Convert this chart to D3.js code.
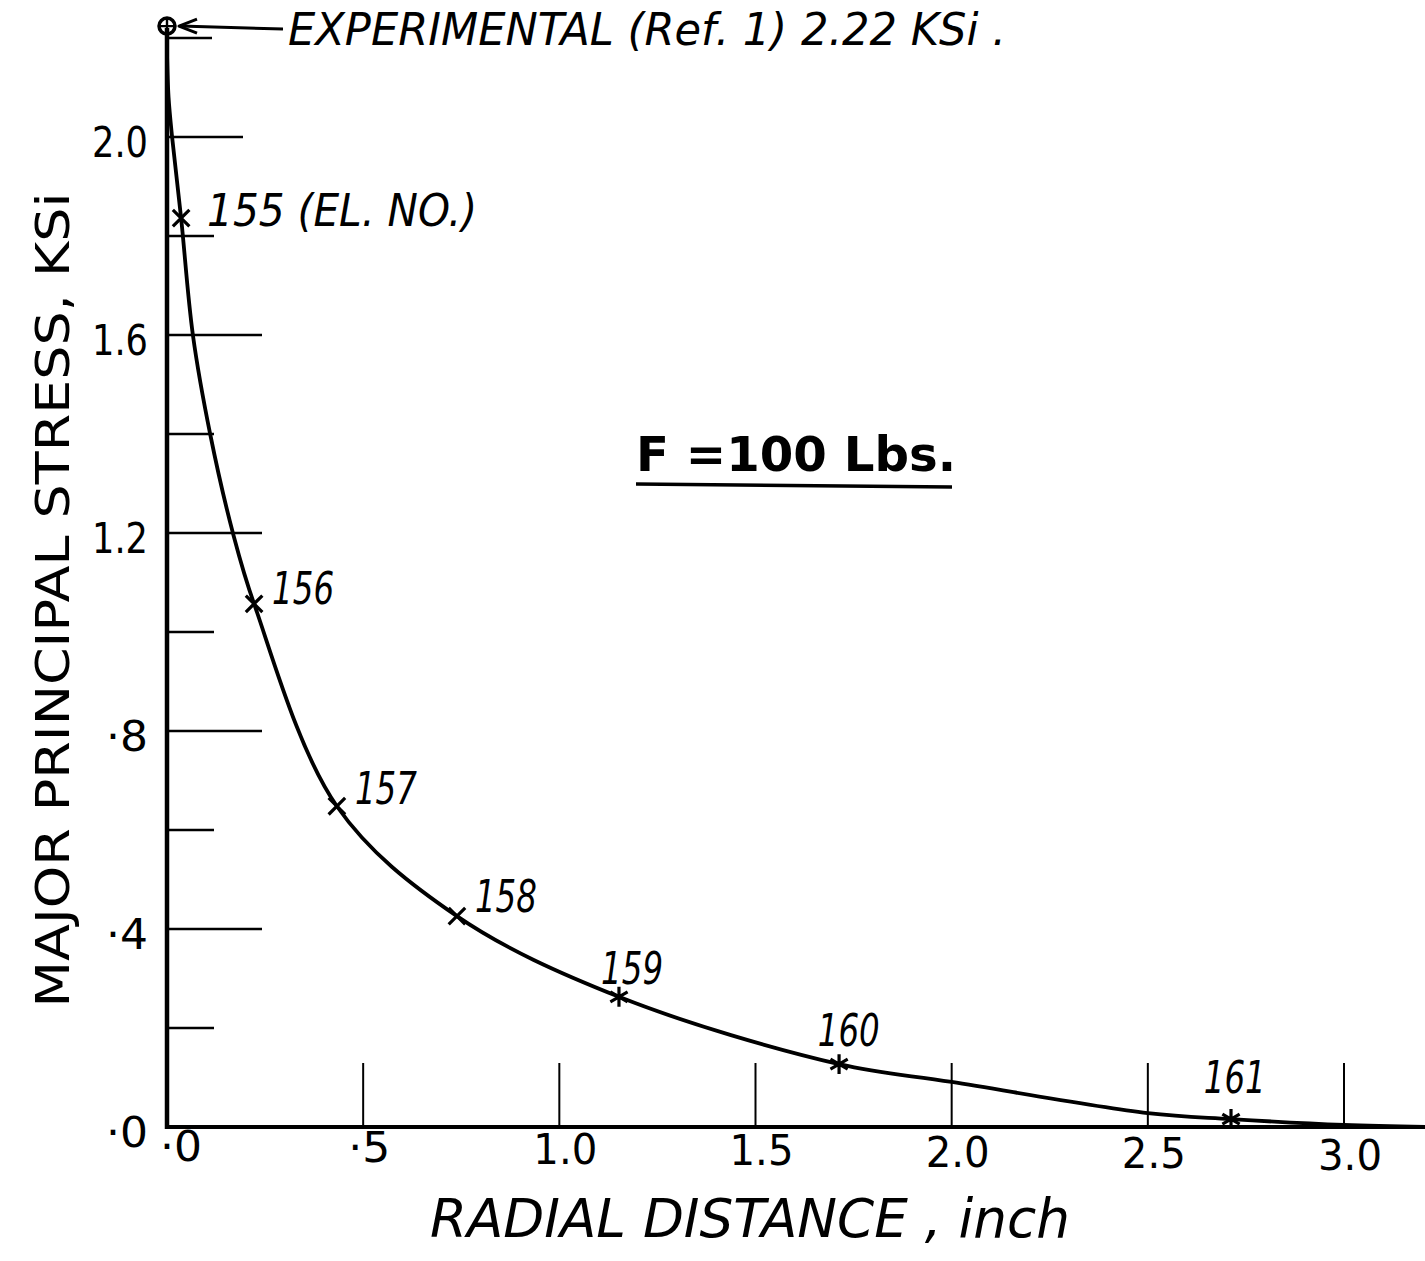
<!DOCTYPE html>
<html>
<head>
<meta charset="utf-8">
<script src="https://cdn.jsdelivr.net/npm/d3@7"></script>
<style>
  html, body { margin: 0; padding: 0; background: #fff; }
  svg { display: block; }
  text { fill: #000; font-family: "DejaVu Sans", sans-serif; }
</style>
</head>
<body>
<svg id="chart" width="1425" height="1261"></svg>
<script>
// ---------- data ----------
const elementNumbers = [155, 156, 157, 158, 159, 160, 161];
const elementRadius  = [0.036, 0.222, 0.433, 0.739, 1.152, 1.713, 2.712];
const elementStress  = [1.836, 1.057, 0.648, 0.426, 0.263, 0.127, 0.016];

const curveRadius = [0, 0.004, 0.013, 0.036, 0.066, 0.110, 0.168, 0.222, 0.433, 0.739, 1.152, 1.713, 2.0, 2.5, 2.712, 3.0, 3.207];
const curveStress = [2.17, 2.08, 2.0, 1.836, 1.6, 1.4, 1.2, 1.057, 0.648, 0.426, 0.263, 0.127, 0.091, 0.028, 0.016, 0.004, 0.0];

const experimentalRadius = 0;
const experimentalStress = 2.22;

const yTickValues = [0.2, 0.4, 0.6, 0.8, 1.0, 1.2, 1.4, 1.6, 1.8, 2.0, 2.2];
const yTickLabelValues = [0, 0.4, 0.8, 1.2, 1.6, 2.0];
const yTickLabels = ["·0", "·4", "·8", "1.2", "1.6", "2.0"];
const xTickValues = [0.5, 1.0, 1.5, 2.0, 2.5, 3.0];
const xTickLabelValues = [0, 0.5, 1.0, 1.5, 2.0, 2.5, 3.0];
const xTickLabels = ["·0", "·5", "1.0", "1.5", "2.0", "2.5", "3.0"];

const xTitle = "RADIAL  DISTANCE , inch";
const yTitle = "MAJOR  PRINCIPAL  STRESS,  KSi";
const experimentalNote = "EXPERIMENTAL (Ref. 1) 2.22 KSi .";
const loadNote = "F =100  Lbs.";
const firstElementSuffix = " (EL. NO.)";

// ---------- layout ----------
const svg = d3.select("#chart");
const W = 1425, H = 1261;
const x = d3.scaleLinear().domain([0, 3]).range([167, 1344]);
const y = d3.scaleLinear().domain([0, 2]).range([1127, 137]);

const ink = "#000";

// axes lines
svg.append("line")
  .attr("x1", x(0)).attr("x2", W)
  .attr("y1", y(0)).attr("y2", y(0))
  .attr("stroke", ink).attr("stroke-width", 4);
svg.append("line")
  .attr("x1", x(0)).attr("x2", x(0))
  .attr("y1", y(0) + 2).attr("y2", y(experimentalStress))
  .attr("stroke", ink).attr("stroke-width", 4.5);

// y ticks (horizontal dashes to the right of the axis)
const labeledSet = new Set(yTickLabelValues.map(v => v.toFixed(1)));
svg.append("g").selectAll("line")
  .data(yTickValues)
  .join("line")
  .attr("x1", x(0))
  .attr("x2", d => x(0) + (d >= 2.1 ? 45 : d >= 1.95 ? 76 : labeledSet.has(d.toFixed(1)) ? 95 : 47))
  .attr("y1", d => y(d)).attr("y2", d => y(d))
  .attr("stroke", ink).attr("stroke-width", 2.6);

// x ticks (vertical dashes above the axis)
svg.append("g").selectAll("line")
  .data(xTickValues)
  .join("line")
  .attr("x1", d => x(d)).attr("x2", d => x(d))
  .attr("y1", y(0)).attr("y2", y(0) - 64)
  .attr("stroke", ink).attr("stroke-width", 2);

// y tick labels
svg.append("g").selectAll("text")
  .data(yTickLabelValues)
  .join("text")
  .attr("x", x(0) - 19)
  .attr("y", d => y(d) + 8)
  .attr("text-anchor", "end")
  .attr("dominant-baseline", "middle")
  .attr("font-size", 42)
  .attr("textLength", (d, i) => yTickLabels[i].length > 2 ? 56 : 42)
  .attr("lengthAdjust", "spacingAndGlyphs")
  .text((d, i) => yTickLabels[i]);

// x tick labels
svg.append("g").selectAll("text")
  .data(xTickLabelValues)
  .join("text")
  .attr("x", d => x(d) + (d === 0 ? 14 : 6))
  .attr("y", d => y(0) + 22 + d * 3)
  .attr("text-anchor", "middle")
  .attr("dominant-baseline", "middle")
  .attr("font-size", 42)
  .attr("textLength", (d, i) => xTickLabels[i].length > 2 ? 64 : 42)
  .attr("lengthAdjust", "spacingAndGlyphs")
  .text((d, i) => xTickLabels[i]);

// axis titles
svg.append("text")
  .attr("x", 750).attr("y", 1222)
  .attr("text-anchor", "middle")
  .attr("dominant-baseline", "middle")
  .attr("font-size", 54)
  .attr("font-style", "italic")
  .attr("textLength", 640).attr("lengthAdjust", "spacingAndGlyphs")
  .text(xTitle);

svg.append("text")
  .attr("transform", "translate(56,600) rotate(-90)")
  .attr("text-anchor", "middle")
  .attr("dominant-baseline", "middle")
  .attr("font-size", 46)
  .attr("textLength", 815).attr("lengthAdjust", "spacingAndGlyphs")
  .text(yTitle);

// curve
const curvePts = curveRadius.map((r, i) => [r, curveStress[i]]);
const line = d3.line()
  .x(d => x(d[0])).y(d => y(d[1]))
  .curve(d3.curveCatmullRom.alpha(0.5));
svg.append("path")
  .attr("d", line(curvePts))
  .attr("fill", "none")
  .attr("stroke", ink)
  .attr("stroke-width", 3.8)
  .attr("stroke-linecap", "round");

// element markers
const pts = elementNumbers.map((n, i) => ({ n, r: elementRadius[i], s: elementStress[i], i }));
svg.append("g").selectAll("path")
  .data(pts)
  .join("path")
  .attr("transform", d => `translate(${x(d.r)},${y(d.s)})`)
  .attr("d", d => d3.symbol().type(d.r > 1 ? d3.symbolAsterisk : d3.symbolTimes).size(d.r > 1 ? 280 : 180)())
  .attr("fill", "none")
  .attr("stroke", ink)
  .attr("stroke-width", 3.2);

// element labels
svg.append("g").selectAll("text")
  .data(pts)
  .join("text")
  .attr("x", d => d.r > 1 ? x(d.r) + 20 - d.r * 6 : x(d.r) + (d.i === 0 ? 26 : 18))
  .attr("y", d => d.r > 1 ? y(d.s) - 16 - d.r * 8 : y(d.s) - (d.i === 0 ? 4 : 10 + d.i * 2))
  .attr("text-anchor", d => d.r > 1 ? "middle" : "start")
  .attr("dominant-baseline", "middle")
  .attr("font-size", 44)
  .attr("font-style", "italic")
  .attr("textLength", d => d.i === 0 ? 270 : 62)
  .attr("lengthAdjust", "spacingAndGlyphs")
  .text(d => d.i === 0 ? d.n + firstElementSuffix : String(d.n));

// experimental point
const ex = x(experimentalRadius), ey = y(experimentalStress);
svg.append("circle")
  .attr("cx", ex).attr("cy", ey - 2).attr("r", 8)
  .attr("fill", "none").attr("stroke", ink).attr("stroke-width", 3.5);
svg.append("path")
  .attr("d", `M${ex - 7},${ey - 2}H${ex + 7}M${ex},${ey - 9}V${ey + 5}`)
  .attr("stroke", ink).attr("stroke-width", 2.4);

// arrow
svg.append("line")
  .attr("x1", ex + 116).attr("y1", ey + 1)
  .attr("x2", ex + 13).attr("y2", ey - 2)
  .attr("stroke", ink).attr("stroke-width", 3);
svg.append("path")
  .attr("d", `M${ex + 30},${ey - 9} L${ex + 12},${ey - 2} L${ex + 30},${ey + 5}`)
  .attr("fill", "none").attr("stroke", ink).attr("stroke-width", 3)
  .attr("stroke-linejoin", "round");

svg.append("text")
  .attr("x", 288).attr("y", 33)
  .attr("dominant-baseline", "middle")
  .attr("font-size", 44)
  .attr("font-style", "italic")
  .attr("textLength", 718).attr("lengthAdjust", "spacingAndGlyphs")
  .text(experimentalNote);

// load note
svg.append("text")
  .attr("x", 636).attr("y", 458)
  .attr("dominant-baseline", "middle")
  .attr("font-size", 48)
  .attr("font-weight", "bold")
  .attr("textLength", 320).attr("lengthAdjust", "spacingAndGlyphs")
  .text(loadNote);
svg.append("line")
  .attr("x1", 636).attr("x2", 952)
  .attr("y1", 484).attr("y2", 487)
  .attr("stroke", ink).attr("stroke-width", 3.5);
</script>
</body>
</html>
